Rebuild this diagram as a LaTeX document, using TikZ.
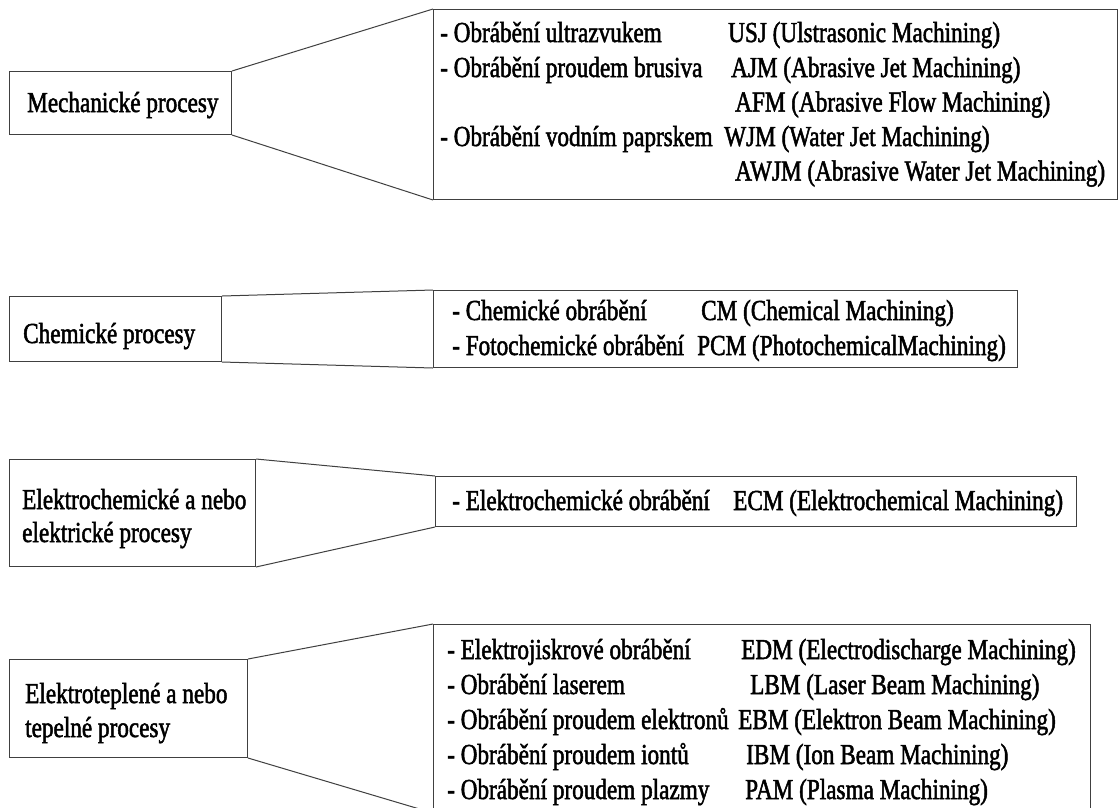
\documentclass[tikz,border=0pt]{standalone}
\usepackage{fontspec}
\setmainfont{Liberation Serif}[FakeStretch=0.8, UprightFeatures={FakeBold=1.7}]
\begin{document}
\begin{tikzpicture}[x=1pt,y=-1pt,
  box/.style={draw=black!75, line width=1pt, inner sep=0pt, anchor=north west, fill=none},
  conn/.style={draw=black!75, line width=1pt},
  txt/.style={anchor=base west, inner sep=0pt, font=\fontsize{29}{34.5}\selectfont}]
\clip (0,0) rectangle (1119,807);
\fill[white] (0,0) rectangle (1119,807);
% ---------- group 1 ----------
\node[box, minimum width=684pt, minimum height=190pt] (R1) at (433,9) {};
\node[box, minimum width=222pt, minimum height=63pt] (L1) at (9,71) {};
\draw[conn] (L1.north east) -- (R1.north west);
\draw[conn] (L1.south east) -- (R1.south west);
\node[txt] (t1) at (27,112) {Mechanické procesy};
\node[txt] (a1) at (440,42) {- Obrábění ultrazvukem};
\node[txt] (b1) at (728,42) {USJ (Ulstrasonic Machining)};
\node[txt] (a2) at (440,77) {- Obrábění proudem brusiva};
\node[txt] (b2) at (731,77) {AJM (Abrasive Jet Machining)};
\node[txt] (b3) at (735,111.5) {AFM (Abrasive Flow Machining)};
\node[txt] (a4) at (440,146) {- Obrábění vodním paprskem};
\node[txt] (b4) at (724,146) {WJM (Water Jet Machining)};
\node[txt] (b5) at (735,180.5) {AWJM (Abrasive Water Jet Machining)};
% ---------- group 2 ----------
\node[box, minimum width=212pt, minimum height=65pt] (L2) at (9,296) {};
\node[box, minimum width=584pt, minimum height=77pt] (R2) at (433,290) {};
\draw[conn] (L2.north east) -- (R2.north west);
\draw[conn] (L2.south east) -- (R2.south west);
\node[txt] (t2) at (23,343) {Chemické procesy};
\node[txt] (c1) at (452,320) {- Chemické obrábění};
\node[txt] (d1) at (701,320) {CM (Chemical Machining)};
\node[txt] (c2) at (452,355) {- Fotochemické obrábění};
\node[txt] (d2) at (697,355) {PCM (PhotochemicalMachining)};
% ---------- group 3 ----------
\node[box, minimum width=246pt, minimum height=107pt] (L3) at (9,459) {};
\node[box, minimum width=641pt, minimum height=50pt] (R3) at (435,476) {};
\draw[conn] (L3.north east) -- (R3.north west);
\draw[conn] (L3.south east) -- (R3.south west);
\node[txt] (t3a) at (22,509) {Elektrochemické a nebo};
\node[txt] (t3b) at (22,542) {elektrické procesy};
\node[txt] (e1) at (452,510) {- Elektrochemické obrábění};
\node[txt] (f1) at (733,510) {ECM (Elektrochemical Machining)};
% ---------- group 4 ----------
\node[box, minimum width=657pt, minimum height=188pt] (R4) at (433,624) {};
\node[box, minimum width=238pt, minimum height=98pt] (L4) at (9,659) {};
\draw[conn] (L4.north east) -- (R4.north west);
\draw[conn] (L4.south east) -- (R4.south west);
\node[txt] (t4a) at (25,703) {Elektroteplené a nebo};
\node[txt] (t4b) at (25,737) {tepelné procesy};
\node[txt] (g1) at (447,659) {- Elektrojiskrové obrábění};
\node[txt] (h1) at (741,659) {EDM (Electrodischarge Machining)};
\node[txt] (g2) at (447,694) {- Obrábění laserem};
\node[txt] (h2) at (750,694) {LBM (Laser Beam Machining)};
\node[txt] (g3) at (447,729) {- Obrábění proudem elektronů};
\node[txt] (h3) at (738,729) {EBM (Elektron Beam Machining)};
\node[txt] (g4) at (447,764) {- Obrábění proudem iontů};
\node[txt] (h4) at (746,764) {IBM (Ion Beam Machining)};
\node[txt] (g5) at (447,799) {- Obrábění proudem plazmy};
\node[txt] (h5) at (745,799) {PAM (Plasma Machining)};
\end{tikzpicture}
\end{document}
